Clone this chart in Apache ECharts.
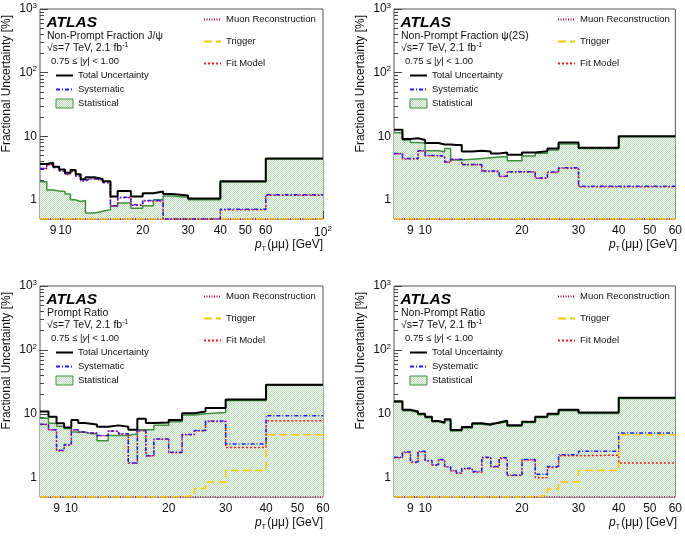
<!DOCTYPE html>
<html><head><meta charset="utf-8">
<script src="https://cdn.jsdelivr.net/npm/echarts@6/dist/echarts.min.js"></script>
<style>html,body{margin:0;padding:0;background:#fff}#c{width:685px;height:537px}</style>
</head><body><div id="c"></div>
<script>
// ---------------- DATA ----------------
// bin edges in pT [GeV]
const edgesJpsi = [8,8.5,9,9.5,10,10.5,11,11.5,12,12.5,13,14,15,16,17,18,20,22,24,26,30,40,60,100];
const edgesPsi  = [8,8.5,9,9.5,10,10.5,11,11.5,12,12.5,13,14,15,16,17,18,20,22,24,26,30,40,60];

// Panel 1: Non-Prompt Fraction J/psi (23 bins), fractional uncertainty [%]
const npfJpsiTotal = [3.65,3.83,3.3,3.0,2.67,2.94,2.52,2.1,2.26,2.26,2.13,1.96,1.13,1.38,1.38,1.13,1.27,1.35,1.24,1.17,1.05,1.96,4.47];
const npfJpsiStat  = [1.93,1.43,1.38,1.35,1.24,1.0,0.94,0.98,0.62,0.62,0.66,0.70,0.81,0.89,0.89,0.74,0.81,1.0,1.15,1.1,1.0,1.91,4.37];
const npfJpsiSyst  = [3.12,3.6,3.24,2.87,2.55,2.84,2.37,2.0,2.15,2.15,2.05,1.87,0.81,1.1,1.1,0.84,0.98,0.98,0.5,0.5,0.5,0.71,1.2];
const npfJpsiMuon  = [0.5,0.5,0.5,0.5,0.5,0.5,0.5,0.5,0.5,0.5,0.5,0.5,0.5,0.5,0.5,0.5,0.5,0.5,0.5,0.5,0.5,0.5,0.5];
const npfJpsiTrig  = [0.5,0.5,0.5,0.5,0.5,0.5,0.5,0.5,0.5,0.5,0.5,0.5,0.5,0.5,0.5,0.5,0.5,0.5,0.5,0.5,0.5,0.5,0.5];
const npfJpsiFit   = [3.1,3.55,3.2,2.85,2.5,2.8,2.35,1.98,2.12,2.12,2.02,1.85,0.8,1.08,1.08,0.82,0.96,0.96,0.5,0.5,0.5,0.7,1.18];

// Panel 2: Non-Prompt Fraction psi(2S) (22 bins)
const npfPsiTotal = [12.6,9.06,9.3,8.75,7.8,7.8,7.4,7.4,7.3,7.3,5.77,5.9,5.77,5.35,5.55,5.1,5.55,5.83,6.43,8.0,6.6,10.0];
const npfPsiStat  = [11.3,8.75,8.0,7.8,5.9,5.9,5.7,6.4,4.24,4.24,4.35,4.45,4.6,4.7,4.8,4.1,4.9,5.4,6.1,7.55,6.43,9.8];
const npfPsiSyst  = [5.35,4.45,4.45,5.9,5.0,5.0,4.8,3.94,4.35,4.35,3.6,3.6,2.83,2.83,2.36,2.76,2.76,2.2,2.73,3.2,1.63,1.63];
const npfPsiMuon  = [0.5,0.5,0.5,0.5,0.5,0.5,0.5,0.5,0.5,0.5,0.5,0.5,0.5,0.5,0.5,0.5,0.5,0.5,0.5,0.5,0.5,0.5];
const npfPsiTrig  = [0.5,0.5,0.5,0.5,0.5,0.5,0.5,0.5,0.5,0.5,0.5,0.5,0.5,0.5,0.5,0.5,0.5,0.5,0.5,0.5,0.5,0.5];
const npfPsiFit   = [5.3,4.4,4.4,5.85,4.95,4.95,4.75,3.9,4.3,4.3,3.55,3.55,2.8,2.8,2.33,2.73,2.73,2.18,2.7,3.15,1.6,1.6];

// Panel 3: Prompt Ratio (22 bins)
const prTotal = [10.9,9.0,7.1,6.1,8.0,7.2,7.0,6.8,6.3,6.3,6.6,6.3,5.65,8.4,7.2,7.3,8.0,10.2,10.9,12.3,16.8,28.5];
const prStat  = [8.5,7.1,6.4,5.9,5.2,5.2,4.9,4.9,3.8,3.8,4.6,4.6,4.9,5.65,5.65,6.6,7.5,9.6,10.0,10.5,16.2,28.0];
const prSyst  = [6.9,5.65,2.7,3.3,5.65,5.2,5.0,5.0,4.6,4.6,5.4,4.9,1.7,5.5,2.2,4.05,2.5,4.75,5.5,7.7,3.36,9.3];
const prMuon  = [0.5,0.5,0.5,0.5,0.5,0.5,0.5,0.5,0.5,0.5,0.5,0.5,0.5,0.5,0.5,0.5,0.5,0.5,0.5,0.5,0.5,0.5];
const prTrig  = [0.5,0.5,0.5,0.5,0.5,0.5,0.5,0.5,0.5,0.5,0.5,0.5,0.5,0.5,0.5,0.5,0.5,0.53,0.68,0.86,1.3,4.7];
const prFit   = [6.8,5.6,2.65,3.25,5.6,5.15,4.95,4.95,4.55,4.55,5.35,4.85,1.68,5.45,2.18,4.0,2.47,4.7,5.45,7.6,2.97,7.8];

// Panel 4: Non-Prompt Ratio (22 bins)
const nprTotal = [15.8,11.6,10.9,10.0,9.0,7.7,7.3,8.2,5.6,5.6,6.2,7.1,6.8,7.3,7.8,6.6,7.5,9.0,10.0,11.6,10.5,17.9];
const nprStat  = [15.2,11.2,10.5,9.7,8.7,7.5,7.1,7.9,5.4,5.4,6.0,6.9,6.6,7.1,7.6,6.4,7.3,8.8,9.7,11.2,10.1,17.3];
const nprSyst  = [2.1,2.53,1.77,2.6,1.86,1.6,1.93,1.5,1.3,1.2,1.41,1.25,2.1,1.5,2.05,1.1,1.93,1.13,1.5,2.3,2.6,5.0];
const nprMuon  = [0.5,0.5,0.5,0.5,0.5,0.5,0.5,0.5,0.5,0.5,0.5,0.5,0.5,0.5,0.5,0.5,0.5,0.5,0.5,0.5,0.5,0.5];
const nprTrig  = [0.5,0.5,0.5,0.5,0.5,0.5,0.5,0.5,0.5,0.5,0.5,0.5,0.5,0.5,0.5,0.5,0.5,0.53,0.67,0.86,1.3,4.7];
const nprFit   = [2.05,2.48,1.74,2.55,1.83,1.57,1.9,1.47,1.27,1.18,1.38,1.22,2.05,1.47,2.0,1.08,1.9,1.0,1.45,2.2,2.26,1.7];

const panelTitles = ['Non-Prompt Fraction J/\u03c8','Non-Prompt Fraction \u03c8(2S)','Prompt Ratio','Non-Prompt Ratio'];
const xLabelValuesJpsi = [9,10,20,30,40,50,60,100];
const xLabelValuesPsi  = [9,10,20,30,40,50,60];
const yLabelValues = [1,10,100,1000];

// ---------------- LAYOUT / STYLE ----------------
const FONT = '"Liberation Sans", Arial, Helvetica, sans-serif';
const layout = [
  {left:40,  top:9,   width:283, height:210},
  {left:394, top:9,   width:283, height:210},
  {left:40,  top:286, width:283, height:211},
  {left:394, top:286, width:283, height:211}
];
const panels = [
  {edges:edgesJpsi, xmax:100, xl:xLabelValuesJpsi, total:npfJpsiTotal, stat:npfJpsiStat, syst:npfJpsiSyst, muon:npfJpsiMuon, trig:npfJpsiTrig, fit:npfJpsiFit},
  {edges:edgesPsi,  xmax:60,  xl:xLabelValuesPsi,  total:npfPsiTotal,  stat:npfPsiStat,  syst:npfPsiSyst,  muon:npfPsiMuon,  trig:npfPsiTrig,  fit:npfPsiFit},
  {edges:edgesPsi,  xmax:60,  xl:xLabelValuesPsi,  total:prTotal, stat:prStat, syst:prSyst, muon:prMuon, trig:prTrig, fit:prFit},
  {edges:edgesPsi,  xmax:60,  xl:xLabelValuesPsi,  total:nprTotal, stat:nprStat, syst:nprSyst, muon:nprMuon, trig:nprTrig, fit:nprFit}
];
const XMIN = 8, YMIN = 0.5, YMAX = 1000;

function makePattern(){
  const c = document.createElement('canvas'); c.width = 2; c.height = 2;
  const g = c.getContext('2d');
  g.fillStyle = '#f0f8f0'; g.fillRect(0,0,2,2);
  g.fillStyle = '#bcdcbc'; g.fillRect(0,0,1,1); g.fillRect(1,1,1,1);
  return c;
}
const fillPattern = {image: makePattern(), repeat: 'repeat'};
const STAT_LINE = '#3f8f3f';

function steps(edges, vals){
  const d = vals.map((v,i)=>[edges[i], v]);
  d.push([edges[vals.length], vals[vals.length-1]]);
  return d;
}
const L = Math.log10;
function minorList(lo, hi){
  const out = [];
  for (let n=-1;n<=3;n++) for (let k=2;k<=9;k++){ const v = k*Math.pow(10,n); if (v>lo && v<hi) out.push(L(v)); }
  return out;
}
function supLabel(v){
  const r = Math.round(Math.pow(10, v));
  if (r === 100) return '10{sup|2}';
  if (r === 1000) return '10{sup|3}';
  return String(r);
}
const labelRich = {sup:{fontSize:8, fontFamily:FONT, color:'#111', padding:[0,0,7,0]}};

const grid=[], xAxis=[], yAxis=[], series=[], legend=[], graphic=[];
panels.forEach((p, i)=>{
  const g = layout[i];
  grid.push({left:g.left, top:g.top, width:g.width, height:g.height, show:true, borderColor:'#555', borderWidth:1, backgroundColor:'transparent'});
  const xb = 3*i;
  // data axes (library log scale)
  xAxis.push({type:'log', logBase:10, gridIndex:i, min:XMIN, max:p.xmax, position:'bottom', show:false, axisLine:{onZero:false}});
  yAxis.push({type:'log', logBase:10, gridIndex:i, min:YMIN, max:YMAX, position:'left', show:false, axisLine:{onZero:false}});
  // tick / label axes in log10 space
  const xDec = [10,100].filter(v=>v>XMIN && v<=p.xmax).map(L);
  const xMinor = [];
  [9,20,30,40,50,60,70,80,90].forEach(v=>{ if (v>XMIN && v<p.xmax) xMinor.push(L(v)); });
  xAxis.push({type:'value', gridIndex:i, position:'bottom', min:L(XMIN), max:L(p.xmax),
    axisLine:{show:false, onZero:false}, splitLine:{show:false},
    axisTick:{show:true, inside:true, length:8, customValues:xDec, lineStyle:{color:'#444'}},
    axisLabel:{customValues:p.xl.map(L), formatter:supLabel, margin:6, fontSize:12, fontFamily:FONT, color:'#111', rich:labelRich, hideOverlap:false}});
  xAxis.push({type:'value', gridIndex:i, position:'bottom', min:L(XMIN), max:L(p.xmax),
    axisLine:{show:false, onZero:false}, splitLine:{show:false},
    axisTick:{show:true, inside:true, length:4, customValues:xMinor, lineStyle:{color:'#444'}},
    axisLabel:{show:false}});
  yAxis.push({type:'value', gridIndex:i, position:'left', min:L(YMIN), max:L(YMAX),
    axisLine:{show:false, onZero:false}, splitLine:{show:false},
    axisTick:{show:true, inside:true, length:8, customValues:yLabelValues.map(L), lineStyle:{color:'#444'}},
    axisLabel:{customValues:yLabelValues.map(L), formatter:supLabel, margin:3, fontSize:12, fontFamily:FONT, color:'#111', rich:labelRich, hideOverlap:false}});
  yAxis.push({type:'value', gridIndex:i, position:'left', min:L(YMIN), max:L(YMAX),
    axisLine:{show:false, onZero:false}, splitLine:{show:false},
    axisTick:{show:true, inside:true, length:4, customValues:minorList(YMIN, YMAX), lineStyle:{color:'#444'}},
    axisLabel:{show:false}});

  const common = {type:'line', xAxisIndex:xb, yAxisIndex:xb, step:'end', symbol:'none', silent:true, animation:false};
  series.push(Object.assign({}, common, {name:'Statistical', data:steps(p.edges,p.stat), itemStyle:{color:STAT_LINE},
    lineStyle:{color:STAT_LINE, width:1.5}, areaStyle:{color:fillPattern, origin:'start', opacity:1}, z:2}));
  series.push(Object.assign({}, common, {name:'Muon Reconstruction', data:steps(p.edges,p.muon), itemStyle:{color:'#a0004a'},
    lineStyle:{color:'#a0004a', width:1.5, type:[1,1.5]}, z:3}));
  series.push(Object.assign({}, common, {name:'Trigger', data:steps(p.edges,p.trig), itemStyle:{color:'#ffc800'},
    lineStyle:{color:'#ffc800', width:1.5, type:[8,4]}, z:3}));
  series.push(Object.assign({}, common, {name:'Fit Model', data:steps(p.edges,p.fit), itemStyle:{color:'#ff1a1a'},
    lineStyle:{color:'#ff1a1a', width:1.5, type:[2,2]}, z:4}));
  series.push(Object.assign({}, common, {name:'Systematic', data:steps(p.edges,p.syst), itemStyle:{color:'#1f1fff'},
    lineStyle:{color:'#1f1fff', width:1.5, type:[4,2,1,2]}, z:5}));
  series.push(Object.assign({}, common, {name:'Total Uncertainty', data:steps(p.edges,p.total), itemStyle:{color:'#000'},
    lineStyle:{color:'#000', width:2}, z:6}));

  const lt = {fontSize:9.5, fontFamily:FONT, color:'#111'};
  legend.push({left:g.left+15, top:g.top+61.5, orient:'vertical', itemWidth:17, itemHeight:9, itemGap:4, selectedMode:false,
    padding:0, textStyle:lt, itemStyle:{opacity:0},
    data:['Total Uncertainty','Systematic',{name:'Statistical', icon:'rect', itemStyle:{opacity:1, color:fillPattern, borderColor:STAT_LINE, borderWidth:1}}]});
  legend.push({left:g.left+163, top:g.top+5.5, orient:'vertical', itemWidth:17, itemHeight:9, itemGap:12, selectedMode:false,
    padding:0, textStyle:lt, itemStyle:{opacity:0},
    data:['Muon Reconstruction','Trigger','Fit Model']});

  // annotations
  graphic.push({type:'text', x:g.left+6.5, y:g.top+13.5, silent:true, style:{text:'ATLAS', font:'italic bold 15.5px '+FONT, fill:'#000', align:'left', verticalAlign:'middle'}});
  graphic.push({type:'text', x:g.left+7, y:g.top+27, silent:true, style:{text:panelTitles[i], font:'10.5px '+FONT, fill:'#111', align:'left', verticalAlign:'middle'}});
  graphic.push({type:'text', x:g.left+7, y:g.top+39.5, silent:true, style:{
    text:'{n|\u221as=7 TeV, 2.1 fb}{sup|-1}', align:'left', verticalAlign:'middle',
    rich:{n:{fontSize:10.5, fontFamily:FONT, fill:'#111'}, sup:{fontSize:7, fontFamily:FONT, fill:'#111', padding:[0,0,7,0]}}}});
  graphic.push({type:'text', x:g.left+11, y:g.top+52.5, silent:true, style:{
    text:'{n|0.75 \u2264 |}{i|y}{n|| < 1.00}', align:'left', verticalAlign:'middle',
    rich:{n:{fontSize:9.5, fontFamily:FONT, fill:'#111'}, i:{fontSize:9.5, fontFamily:FONT, fontStyle:'italic', fill:'#111'}}}});
  graphic.push({type:'text', x:g.left-33, y:g.top+6, rotation:Math.PI/2, silent:true, style:{
    text:'Fractional Uncertainty [%]', font:'12px '+FONT, fill:'#111', align:'right', verticalAlign:'middle'}});
  graphic.push({type:'text', x:g.left+g.width, y:g.top+g.height+26, silent:true, style:{
    text:'{i|p}{s|T}{n|(\u03bc\u03bc) [GeV]}', align:'right', verticalAlign:'middle',
    rich:{i:{fontSize:12, fontFamily:FONT, fontStyle:'italic', fill:'#111'}, s:{fontSize:7.5, fontFamily:FONT, fill:'#111', padding:[8,1,0,0]}, n:{fontSize:12, fontFamily:FONT, fill:'#111'}}}});
});

const chart = echarts.init(document.getElementById('c'), null, {renderer:'canvas'});
chart.setOption({backgroundColor:'#fff', animation:false, grid, xAxis, yAxis, series, legend, graphic});
</script>
</body></html>
